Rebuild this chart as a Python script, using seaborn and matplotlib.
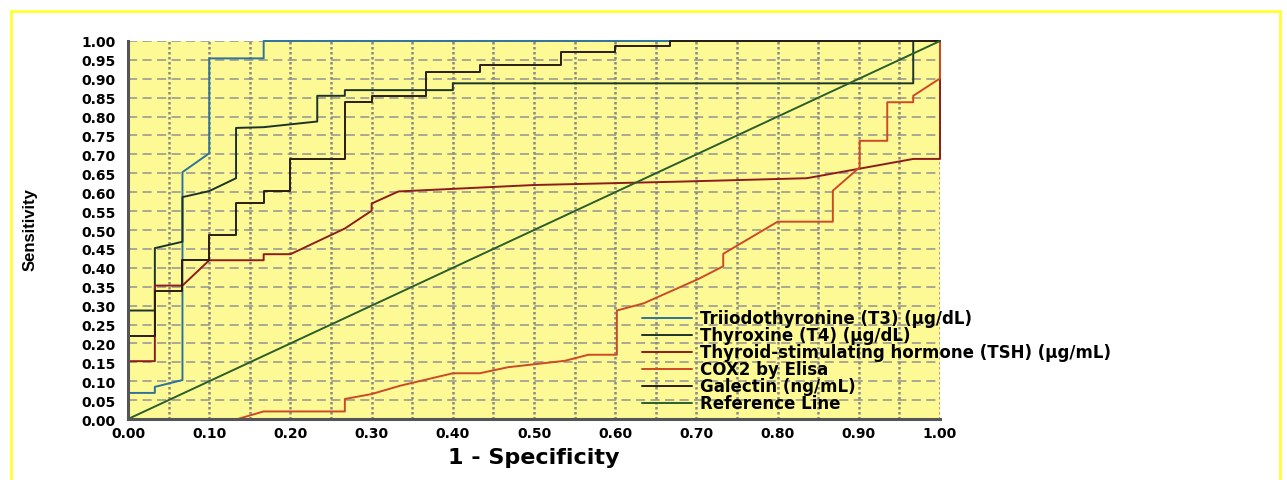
import pandas as pd
import seaborn as sns
import matplotlib.pyplot as plt
from matplotlib.patches import Rectangle

# ROC curves (1 - specificity, sensitivity)
t3_fpr = [0, 0, 0.033, 0.033, 0.067, 0.067, 0.100, 0.100, 0.167, 0.167, 1.0]
t3_tpr = [0, 0.069, 0.069, 0.085, 0.103, 0.653, 0.703, 0.954, 0.954, 1.0, 1.0]

t4_fpr = [0, 0, 0.033, 0.033, 0.067, 0.067, 0.100, 0.133, 0.133, 0.167, 0.233,
          0.233, 0.267, 0.267, 0.400, 0.400, 0.967, 0.967, 1.0]
t4_tpr = [0, 0.287, 0.287, 0.452, 0.469, 0.587, 0.603, 0.637, 0.770, 0.772, 0.787,
          0.855, 0.855, 0.870, 0.870, 0.888, 0.888, 1.0, 1.0]

tsh_fpr = [0, 0, 0.033, 0.033, 0.067, 0.100, 0.167, 0.167, 0.200, 0.267, 0.300,
           0.300, 0.333, 0.500, 0.680, 0.836, 0.967, 1.0, 1.0]
tsh_tpr = [0, 0.153, 0.153, 0.353, 0.353, 0.420, 0.420, 0.436, 0.436, 0.504, 0.551,
           0.570, 0.602, 0.619, 0.628, 0.637, 0.688, 0.688, 1.0]

cox2_fpr = [0, 0.135, 0.167, 0.267, 0.267, 0.300, 0.335, 0.400, 0.433, 0.468, 0.538,
            0.567, 0.602, 0.602, 0.635, 0.702, 0.733, 0.733, 0.800, 0.868, 0.868,
            0.901, 0.901, 0.935, 0.935, 0.967, 0.967, 1.0, 1.0]
cox2_tpr = [0, 0, 0.020, 0.020, 0.053, 0.066, 0.088, 0.121, 0.121, 0.137, 0.154,
            0.170, 0.170, 0.287, 0.306, 0.370, 0.404, 0.437, 0.522, 0.522, 0.604,
            0.666, 0.736, 0.736, 0.838, 0.838, 0.855, 0.901, 1.0]

gal_fpr = [0, 0, 0.033, 0.033, 0.067, 0.067, 0.100, 0.100, 0.133, 0.133, 0.167,
           0.167, 0.200, 0.200, 0.267, 0.267, 0.300, 0.300, 0.367, 0.367, 0.433,
           0.433, 0.533, 0.533, 0.600, 0.600, 0.667, 0.667, 1.0]
gal_tpr = [0, 0.220, 0.220, 0.338, 0.338, 0.420, 0.420, 0.487, 0.487, 0.571, 0.571,
           0.603, 0.603, 0.688, 0.688, 0.838, 0.838, 0.855, 0.855, 0.919, 0.919,
           0.937, 0.937, 0.970, 0.970, 0.988, 0.988, 1.0, 1.0]

ref_fpr = [0, 1]
ref_tpr = [0, 1]

labels = ['Triiodothyronine (T3) (µg/dL)', 'Thyroxine (T4) (µg/dL)',
          'Thyroid-stimulating hormone (TSH) (µg/mL)', 'COX2 by Elisa',
          'Galectin (ng/mL)', 'Reference Line']
curves = [(t3_fpr, t3_tpr), (t4_fpr, t4_tpr), (tsh_fpr, tsh_tpr),
          (cox2_fpr, cox2_tpr), (gal_fpr, gal_tpr), (ref_fpr, ref_tpr)]
colors = ['#2f739b', '#1b3328', '#8e1c1c', '#cc4a26', '#2a1d14', '#2b5e2b']

rows = []
for lab, (xs, ys) in zip(labels, curves):
    for x, y in zip(xs, ys):
        rows.append({'fpr': x, 'tpr': y, 'marker': lab})
df = pd.DataFrame(rows)

sns.set_style('white')
plt.rcParams['font.family'] = ['DejaVu Sans']
plt.rcParams['text.color'] = 'black'
plt.rcParams['axes.labelcolor'] = 'black'
plt.rcParams['xtick.color'] = 'black'
plt.rcParams['ytick.color'] = 'black'

fig = plt.figure(figsize=(12.87, 4.81), dpi=100)
ax = fig.add_axes([0.0995, 0.1268, 0.6309, 0.7859])
ax.set_facecolor('#fdfa96')

sns.lineplot(data=df, x='fpr', y='tpr', hue='marker', hue_order=labels,
             palette=dict(zip(labels, colors)), sort=False, estimator=None,
             linewidth=1.4, ax=ax)
for ln in ax.get_lines():
    ln.set_clip_on(False)

ax.set_xlim(0, 1)
ax.set_ylim(0, 1)
xt = [i / 10 for i in range(11)]
yt = [i / 20 for i in range(21)]
ax.set_xticks(xt)
ax.set_yticks(yt)
ax.set_xticklabels([f'{v:.2f}' for v in xt], fontweight='bold', fontsize=10)
ax.set_yticklabels([f'{v:.2f}' for v in yt], fontweight='bold', fontsize=10)
ax.tick_params(axis='y', length=0, pad=9)
ax.tick_params(axis='x', length=0, pad=5)

# grid: dashed horizontals, dotted verticals every 0.05
for v in yt[1:]:
    ax.axhline(v, color='#939393', lw=1.1, ls=(0, (6, 3.5)), zorder=0.5)
for v in yt[1:]:
    ax.axvline(v, color='#8a8a8a', lw=1.8, ls=(0, (1, 1)), zorder=0.5)

for s in ['top', 'right']:
    ax.spines[s].set_visible(False)
for s in ['left', 'bottom']:
    ax.spines[s].set_color('#555555')
    ax.spines[s].set_linewidth(2.2)

ax.set_xlabel('1 - Specificity', fontsize=16, fontweight='bold')
ax.xaxis.label.set_va('center')
ax.xaxis.set_label_coords(0.5, -0.1005)
ax.set_ylabel('Sensitivity', fontsize=12, fontweight='bold',
              family=['Liberation Sans Narrow', 'Liberation Sans'])
ax.yaxis.label.set_va('center')
ax.yaxis.set_label_coords(-0.1207, 0.505)

handles, _ = ax.get_legend_handles_labels()
ax.legend(handles, labels, loc='upper left', bbox_to_anchor=(0.633, 0.29),
          frameon=False, handlelength=3.0, handletextpad=0.45,
          labelspacing=-0.06, borderpad=0, borderaxespad=0,
          prop={'weight': 'bold', 'size': 12})

fig.patches.append(Rectangle((11 / 1287, -0.02), 1269 / 1287, 1 - 12 / 481 + 0.02,
                             transform=fig.transFigure, fill=False,
                             edgecolor='#ffff33', lw=2))

fig.savefig('out.png', dpi=100)
